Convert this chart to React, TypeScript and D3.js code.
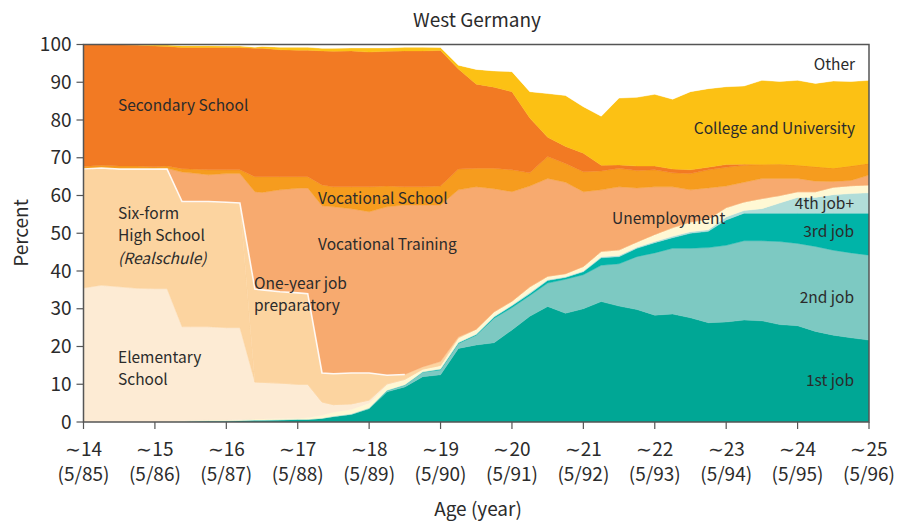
import React from 'react';
import * as d3 from 'd3';

// sample ages (quarterly, with extra points at the sharp school transitions)
const ages = [14, 14.25, 14.5, 14.75, 15, 15.17, 15.38, 15.5, 15.75, 16, 16.19, 16.4, 16.5, 16.75, 17, 17.14, 17.34, 17.5, 17.75, 18, 18.25, 18.5, 18.75, 19, 19.25, 19.5, 19.75, 20, 20.25, 20.5, 20.75, 21, 21.25, 21.5, 21.75, 22, 22.25, 22.5, 22.75, 23, 23.25, 23.5, 23.75, 24, 24.25, 24.5, 24.75, 25];

const tickAges = [14, 15, 16, 17, 18, 19, 20, 21, 22, 23, 24, 25];
const tickDates = ['(5/85)', '(5/86)', '(5/87)', '(5/88)', '(5/89)', '(5/90)', '(5/91)', '(5/92)', '(5/93)', '(5/94)', '(5/95)', '(5/96)'];
const yTicks = [0, 10, 20, 30, 40, 50, 60, 70, 80, 90, 100];

// percent shares, stacked bottom to top
const job1 = [0, 0, 0, 0, 0, 0, 0.1, 0.2, 0.3, 0.3, 0.4, 0.5, 0.5, 0.6, 0.7, 0.7, 1.0, 1.4, 2.0, 3.5, 8.0, 9.3, 12.0, 12.5, 19.5, 20.4, 21.0, 24.4, 28.0, 30.6, 28.8, 30.0, 31.9, 30.7, 29.8, 28.3, 28.6, 27.6, 26.3, 26.5, 27.0, 26.8, 25.8, 25.5, 24.0, 23.0, 22.3, 21.7];
const job2 = [0, 0, 0, 0, 0, 0, 0, 0, 0, 0, 0, 0, 0, 0, 0, 0, 0, 0.1, 0.1, 0.2, 0.3, 0.5, 1.2, 1.3, 1.3, 2.6, 6.5, 5.9, 5.5, 6.2, 9.0, 9.0, 9.6, 11.2, 14.0, 16.5, 17.4, 18.4, 19.9, 20.3, 21.0, 21.2, 22.0, 21.8, 22.5, 22.5, 22.5, 22.5];
const job3 = [0, 0, 0, 0, 0, 0, 0, 0, 0, 0, 0, 0, 0, 0, 0, 0, 0, 0, 0, 0, 0.1, 0.1, 0.1, 0.2, 0.2, 0.2, 0.3, 0.5, 0.5, 0.7, 0.5, 0.8, 2.0, 1.9, 2.2, 2.7, 2.8, 4.0, 4.3, 6.7, 7.3, 7.3, 7.5, 8.0, 8.8, 9.8, 10.5, 11.1];
const job4 = [0, 0, 0, 0, 0, 0, 0, 0, 0, 0, 0, 0, 0, 0, 0, 0, 0, 0, 0, 0, 0, 0, 0, 0.1, 0.1, 0.1, 0.2, 0.2, 0.3, 0.2, 0.2, 0.2, 0.3, 0.3, 0.3, 0.3, 0.4, 0.4, 0.4, 0.8, 0.7, 1.2, 2.7, 4.2, 4.2, 4.9, 5.2, 5.4];
const unemployment = [0, 0, 0, 0, 0, 0.1, 0.2, 0.2, 0.2, 0.2, 0.2, 0.3, 0.3, 0.3, 0.3, 0.4, 0.8, 1.1, 1.2, 1.3, 1.4, 1.3, 0.7, 0.9, 1.2, 1.3, 1.2, 1.0, 1.5, 0.9, 0.8, 1.2, 1.4, 1.5, 1.4, 1.9, 2.3, 2.6, 2.9, 2.5, 2.3, 2.7, 2.0, 1.5, 1.5, 2.0, 2.1, 2.1];
const elementary = [35.5, 36.2, 35.8, 35.4, 35.3, 35.2, 24.9, 24.8, 24.7, 24.5, 24.4, 9.8, 9.7, 9.4, 9.0, 8.9, 3.5, 2.0, 1.5, 0.8, 0.3, 0.1, 0, 0, 0, 0, 0, 0, 0, 0, 0, 0, 0, 0, 0, 0, 0, 0, 0, 0, 0, 0, 0, 0, 0, 0, 0, 0];
const sixForm = [31.5, 31.1, 31.2, 31.6, 31.7, 31.7, 33.2, 33.2, 33.2, 33.2, 33.0, 0, 0, 0, 0, 0, 0, 0, 0, 0, 0, 0, 0, 0, 0, 0, 0, 0, 0, 0, 0, 0, 0, 0, 0, 0, 0, 0, 0, 0, 0, 0, 0, 0, 0, 0, 0, 0];
const jobPrep = [0, 0, 0, 0, 0, 0, 0, 0, 0, 0, 0, 24.6, 24.5, 24.2, 24.2, 24.0, 7.7, 8.2, 8.2, 7.2, 2.3, 1.3, 0.6, 1.0, 0.2, 0, 0, 0, 0, 0, 0, 0, 0, 0, 0, 0, 0, 0, 0, 0, 0, 0, 0, 0, 0, 0, 0, 0];
const vocTraining = [0, 0, 0, 0, 0, 0.2, 7.8, 7.6, 7.1, 7.6, 7.8, 25.8, 25.8, 27.0, 27.7, 28.0, 44.3, 44.2, 43.5, 42.7, 44.6, 44.9, 42.9, 41.5, 39.0, 37.7, 32.6, 29.0, 26.7, 25.9, 24.2, 19.8, 16.3, 16.7, 14.3, 12.6, 10.8, 8.5, 8.2, 5.7, 5.2, 5.3, 4.5, 3.5, 2.8, 1.5, 1.4, 2.6];
const vocSchool = [0.7, 0.7, 0.8, 0.8, 0.6, 0.6, 0.9, 1.0, 1.3, 1.0, 1.0, 4.0, 4.2, 3.5, 3.1, 3.0, 5.5, 5.3, 5.8, 6.6, 5.5, 4.8, 4.8, 5.0, 5.5, 4.9, 5.4, 5.8, 3.5, 5.8, 5.0, 5.3, 5.0, 4.9, 4.6, 4.5, 3.7, 4.3, 4.8, 5.0, 4.5, 3.7, 3.8, 3.5, 3.8, 3.5, 3.8, 3.1];
const secondary = [32.3, 32.0, 32.2, 32.1, 32.0, 31.7, 32.1, 32.2, 32.4, 32.4, 32.4, 34.0, 34.0, 33.6, 33.5, 33.5, 35.5, 35.9, 36.0, 35.7, 35.7, 36.0, 36.0, 35.9, 26.5, 22.3, 21.5, 20.7, 14.5, 5.1, 4.5, 4.9, 1.5, 0.9, 1.2, 1.0, 1.0, 1.0, 0.7, 0.7, 0.3, 0, 0, 0, 0, 0, 0, 0];
const college = [0, 0, 0, 0, 0.3, 0.4, 0.5, 0.5, 0.5, 0.4, 0.4, 0.3, 0.5, 0.7, 0.8, 0.8, 0.7, 0.8, 0.8, 1.1, 0.9, 1.0, 1.0, 0.8, 1.0, 3.9, 4.3, 5.3, 7.0, 11.6, 13.5, 12.3, 13.0, 17.7, 18.2, 19.0, 18.5, 20.7, 20.8, 20.6, 20.7, 22.3, 21.9, 22.5, 22.1, 23.1, 22.4, 22.0];
const other = [0, 0, 0, 0.1, 0.1, 0.1, 0.3, 0.3, 0.3, 0.4, 0.4, 0.7, 0.5, 0.7, 0.7, 0.7, 1.0, 1.0, 0.9, 0.9, 0.9, 0.7, 0.7, 0.8, 5.5, 6.6, 7.0, 7.2, 12.5, 13.0, 13.5, 16.5, 19.0, 14.2, 14.0, 13.2, 14.5, 12.5, 11.7, 11.2, 11.0, 9.5, 9.8, 9.5, 10.3, 9.7, 9.8, 9.5];

const series = [
  { key: 'job1', values: job1, color: '#00a795' },
  { key: 'job2', values: job2, color: '#7dc9c2' },
  { key: 'job3', values: job3, color: '#00b4a8' },
  { key: 'job4', values: job4, color: '#b1ddd9' },
  { key: 'unemployment', values: unemployment, color: '#fff8d4' },
  { key: 'elementary', values: elementary, color: '#fdebd4' },
  { key: 'sixForm', values: sixForm, color: '#fcd4a0' },
  { key: 'jobPrep', values: jobPrep, color: '#fcd4a0' },
  { key: 'vocTraining', values: vocTraining, color: '#f7aa6f' },
  { key: 'vocSchool', values: vocSchool, color: '#f69c1e' },
  { key: 'secondary', values: secondary, color: '#f27a23' },
  { key: 'college', values: college, color: '#fcc114' },
  { key: 'other', values: other, color: '#ffffff' },
];

const labels = [
  { lines: ['Secondary School'], x: 118, y: 106, anchor: 'start' },
  { lines: ['Other'], x: 855, y: 65, anchor: 'end' },
  { lines: ['College and University'], x: 855, y: 129, anchor: 'end' },
  { lines: ['Vocational School'], x: 318, y: 199, anchor: 'start' },
  { lines: ['Vocational Training'], x: 318, y: 245, anchor: 'start' },
  { lines: ['Unemployment'], x: 612, y: 219, anchor: 'start' },
  { lines: ['4th job+'], x: 854, y: 204, anchor: 'end' },
  { lines: ['3rd job'], x: 854, y: 232, anchor: 'end' },
  { lines: ['2nd job'], x: 854, y: 298, anchor: 'end' },
  { lines: ['1st job'], x: 854, y: 381, anchor: 'end' },
  { lines: ['Six-form', 'High School'], x: 118, y: 214, anchor: 'start' },
  { lines: ['One-year job', 'preparatory'], x: 254, y: 284, anchor: 'start' },
  { lines: ['Elementary', 'School'], x: 118, y: 358, anchor: 'start' },
];

const W = 900, H = 523;
const left = 83.5, right = 869, top = 44.5, bottom = 422;
const font = '"Noto Sans CJK KR", "Noto Sans", sans-serif';
const ink = '#2b2b2b';

export default function App() {
  const x = d3.scaleLinear().domain([14, 25]).range([left, right]);
  const y = d3.scaleLinear().domain([0, 100]).range([bottom, top]);

  const rows = ages.map((age, i) => {
    const r: any = { age };
    series.forEach(s => { r[s.key] = s.values[i]; });
    return r;
  });

  const stacked = d3.stack().keys(series.map(s => s.key))(rows);

  const area = d3.area<any>()
    .x(d => x(d.data.age))
    .y0(d => y(d[0]))
    .y1(d => y(d[1]))
    .curve(d3.curveLinear);

  // white edge along top of the six-form / job-prep band
  const prepLayer = stacked[series.findIndex(s => s.key === 'jobPrep')];
  const edge = d3.line<any>()
    .x(d => x(d.data.age))
    .y(d => y(d[1]))(prepLayer.filter(d => d.data.age <= 18.5));

  return (
    <svg width={W} height={H} style={{ position: 'absolute', left: 0, top: 0, background: '#fff' }} fontFamily={font}>
      <defs>
        <clipPath id="plot">
          <rect x={left} y={top} width={right - left} height={bottom - top} />
        </clipPath>
      </defs>
      <g clipPath="url(#plot)">
        {stacked.map((layer, i) => (
          <path key={layer.key} d={area(layer) || ''} fill={series[i].color} stroke={series[i].color} strokeWidth={0.4} />
        ))}
        <path d={edge || ''} fill="none" stroke="#fff" strokeWidth={1.6} strokeOpacity={0.9} />
      </g>

      <rect x={left} y={top} width={right - left} height={bottom - top} fill="none" stroke="#555" strokeWidth={1.5} />

      {yTicks.map(t => (
        <g key={t}>
          <line x1={left - 7} x2={left} y1={y(t)} y2={y(t)} stroke="#555" strokeWidth={1.2} />
          <text x={left - 12} y={y(t)} dy="0.35em" textAnchor="end" fontSize={19} fill={ink}>{t}</text>
        </g>
      ))}

      {tickAges.map((t, i) => (
        <g key={t}>
          <line x1={x(t)} x2={x(t)} y1={bottom} y2={bottom + 7} stroke="#555" strokeWidth={1.2} />
          <text x={x(t)} y={449} dy="0.35em" textAnchor="middle" fontSize={19} fill={ink}>{'\u223C' + t}</text>
          <text x={x(t)} y={474} dy="0.35em" textAnchor="middle" fontSize={19} fill={ink}>{tickDates[i]}</text>
        </g>
      ))}

      <text x={477} y={20} dy="0.35em" textAnchor="middle" fontSize={19} fill={ink}>West Germany</text>
      <text transform="translate(21,233) rotate(-90)" dy="0.35em" textAnchor="middle" fontSize={19} fill={ink}>Percent</text>
      <text x={478} y={509} dy="0.35em" textAnchor="middle" fontSize={19} fill={ink}>Age (year)</text>

      {labels.map(l => (
        <text key={l.lines[0]} x={l.x} y={l.y} textAnchor={l.anchor as any} fontSize={15.5} fill={ink}>
          {l.lines.map((ln, j) => (
            <tspan key={j} x={l.x} dy={j === 0 ? '0.35em' : 22}>{ln}</tspan>
          ))}
        </text>
      ))}
      <text x={118} y={259} dy="0.35em" fontSize={15.5} fontStyle="italic" fill={ink}>(Realschule)</text>
    </svg>
  );
}
